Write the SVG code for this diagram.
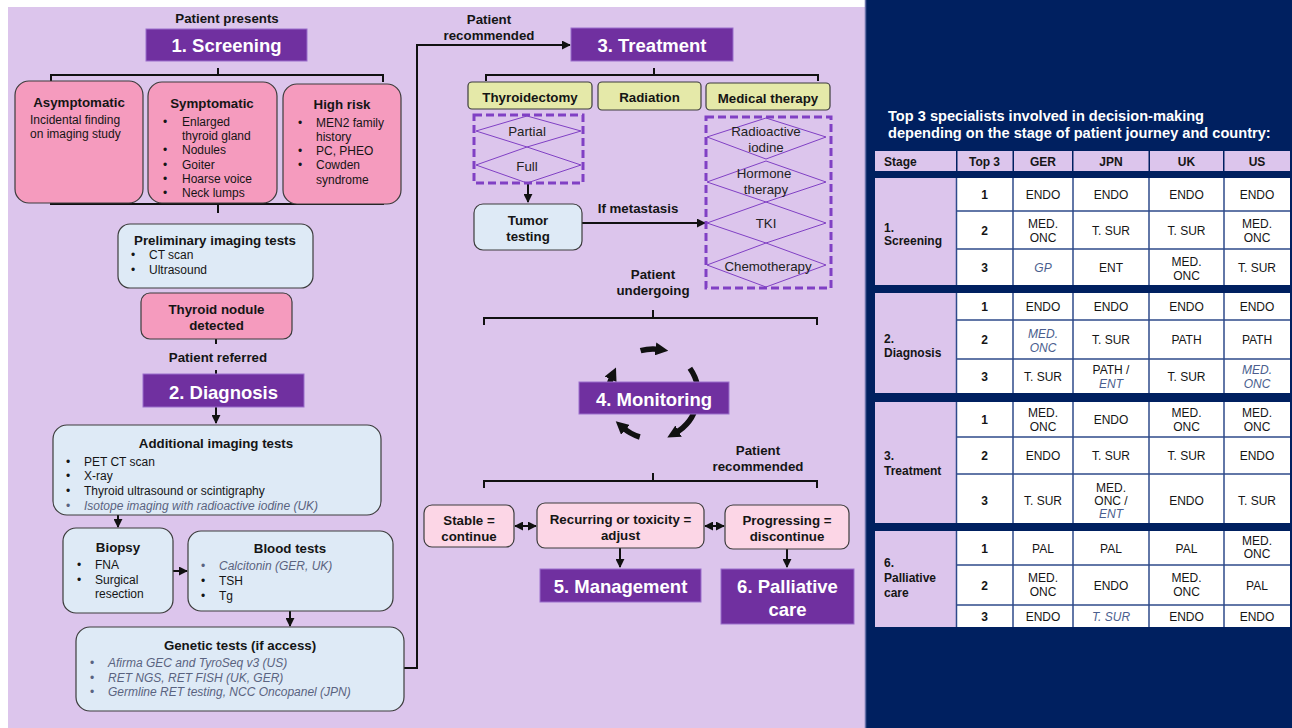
<svg xmlns="http://www.w3.org/2000/svg" width="1292" height="728" viewBox="0 0 1292 728">
<defs>
<style>
text{font-family:"Liberation Sans",Arial,Helvetica,sans-serif;fill:#151515}
.lb{font-size:13.3px;font-weight:bold}
.lbc{font-size:13.3px;font-weight:bold;text-anchor:middle}
.r{font-size:12px}
.it{font-size:12px;font-style:italic;fill:#5A6380}
.hd{font-size:18.5px;font-weight:bold;fill:#fff;text-anchor:middle}
.dm{font-size:13.3px;text-anchor:middle;fill:#222}
.tb{font-size:12px;text-anchor:middle}
.tbb{font-size:12px;font-weight:bold;text-anchor:middle}
.tbs{font-size:12px;font-weight:bold}
.tbi{font-size:12px;font-style:italic;text-anchor:middle;fill:#4A5E8E}
.ttl{font-size:14.6px;font-weight:bold;fill:#fff}
.pk{fill:#F59BBE;stroke:#3c3c3c;stroke-width:1.2}
.lp{fill:#FCD6E6;stroke:#3c3c3c;stroke-width:1.2}
.bl{fill:#DEEAF6;stroke:#3c3c3c;stroke-width:1.2}
.yl{fill:#E5E9A9;stroke:#3c3c3c;stroke-width:1.2}
.pu{fill:#7030A0;stroke:#9A6FCB;stroke-width:1}
.dash{fill:none;stroke:#8040C4;stroke-width:3;stroke-dasharray:8 4}
.dmd{fill:none;stroke:#8040C4;stroke-width:1}
.ln{fill:none;stroke:#111;stroke-width:2}
.cyc{fill:none;stroke:#111;stroke-width:5.5}
.lav{fill:#DCC5EC}
.wc{fill:#fff}
.sep{stroke:#2E4A8A;stroke-width:1.5}
</style>
<marker id="ah" viewBox="0 0 10 10" refX="9" refY="5" markerWidth="9" markerHeight="9" markerUnits="userSpaceOnUse" orient="auto-start-reverse"><path d="M0,0 L10,5 L0,10 z" fill="#111"/></marker>
<marker id="bh" viewBox="0 0 10 10" refX="3" refY="5" markerWidth="13" markerHeight="13" markerUnits="userSpaceOnUse" orient="auto"><path d="M0,0 L10,5 L0,10 z" fill="#111"/></marker>
</defs>

<rect x="8" y="7" width="857" height="721" fill="#DCC5EC"/>
<rect x="865" y="0" width="427" height="728" fill="#002060"/>
<line x1="865.5" y1="0" x2="865.5" y2="728" stroke="#6670A8" stroke-width="1.5"/>

<g id="connectors">
<path class="ln" d="M218,68 V75 M51,82 V75 H383 V82"/>
<path class="ln" d="M51,197 V204 H383 V197 M218,204 V213"/>
<path class="ln" d="M216,339 V344 M216,370 V374"/>
<path class="ln" d="M216,407 V423" marker-end="url(#ah)"/>
<path class="ln" d="M118,515 V527" marker-end="url(#ah)"/>
<path class="ln" d="M173,571 H187" marker-end="url(#ah)"/>
<path class="ln" d="M290,611 V626" marker-end="url(#ah)"/>
<path class="ln" d="M404,668 H417 V45 H570" marker-end="url(#ah)"/>
<path class="ln" d="M654,68 V75 M486,81 V75 H818 V81"/>
<path class="ln" d="M528,183 V202" marker-end="url(#ah)"/>
<path class="ln" d="M582,223 H705" marker-end="url(#ah)"/>
<path class="ln" d="M653,310 V318 M484,325 V318 H817 V325"/>
<path class="ln" d="M653,473 V481 M484,488 V481 H817 V488"/>
<path class="ln" d="M515,526 H536" marker-start="url(#ah)" marker-end="url(#ah)"/>
<path class="ln" d="M705,526 H724" marker-start="url(#ah)" marker-end="url(#ah)"/>
<path class="ln" d="M620,548 V567" marker-end="url(#ah)"/>
<path class="ln" d="M787,549 V567" marker-end="url(#ah)"/>
<path class="cyc" d="M640.6,350.7 A45,45 0 0 1 659.3,349.4" marker-end="url(#bh)"/>
<path class="cyc" d="M689.9,368.2 A45,45 0 0 1 675.2,433.1" marker-end="url(#bh)"/>
<path class="cyc" d="M639.8,437.0 A45,45 0 0 1 622.5,427.3" marker-end="url(#bh)"/>
<path class="cyc" d="M609.5,405.6 A45,45 0 0 1 612.2,375.8" marker-end="url(#bh)"/>
</g>

<text class="lbc" x="227" y="23">Patient presents</text>
<g id="screening"><rect class="pu" x="146" y="29" width="161" height="32"/><text class="hd" x="226.5" y="52">1. Screening</text></g>

<g id="asymptomatic"><rect class="pk" x="15" y="81" width="128" height="122" rx="14"/>
<text class="lbc" x="79" y="106.5">Asymptomatic</text>
<text class="r" x="30" y="123.5">Incidental finding</text><text class="r" x="30" y="137.5">on imaging study</text></g>

<g id="symptomatic"><rect class="pk" x="148" y="82" width="129" height="121" rx="14"/>
<text class="lbc" x="212" y="108">Symptomatic</text>
<g class="r"><text class="r" x="163" y="125.5">•</text><text class="r" x="182" y="125.5">Enlarged</text><text class="r" x="182" y="140">thyroid gland</text>
<text class="r" x="163" y="154">•</text><text class="r" x="182" y="154">Nodules</text>
<text class="r" x="163" y="168.5">•</text><text class="r" x="182" y="168.5">Goiter</text>
<text class="r" x="163" y="182.5">•</text><text class="r" x="182" y="182.5">Hoarse voice</text>
<text class="r" x="163" y="197">•</text><text class="r" x="182" y="197">Neck lumps</text></g></g>

<g id="highrisk"><rect class="pk" x="283" y="84" width="118" height="120" rx="14"/>
<text class="lbc" x="342" y="109">High risk</text>
<text class="r" x="298" y="126.5">•</text><text class="r" x="316" y="126.5">MEN2 family</text><text class="r" x="316" y="140.5">history</text>
<text class="r" x="298" y="155">•</text><text class="r" x="316" y="155">PC, PHEO</text>
<text class="r" x="298" y="169">•</text><text class="r" x="316" y="169">Cowden</text><text class="r" x="316" y="183.5">syndrome</text></g>

<g id="preliminary"><rect class="bl" x="118" y="224" width="195" height="64" rx="12"/>
<text class="lbc" x="215" y="245">Preliminary imaging tests</text>
<text class="r" x="131" y="259">•</text><text class="r" x="149" y="259">CT scan</text>
<text class="r" x="131" y="274">•</text><text class="r" x="149" y="274">Ultrasound</text></g>

<g id="nodule"><rect class="pk" x="141" y="293" width="151" height="46" rx="9"/>
<text class="lbc" x="216.5" y="314">Thyroid nodule</text><text class="lbc" x="216.5" y="330">detected</text></g>

<text class="lbc" x="218" y="362">Patient referred</text>
<g id="diagnosis"><rect class="pu" x="143" y="374" width="161" height="33"/><text class="hd" x="223.5" y="398.5">2. Diagnosis</text></g>

<g id="additional"><rect class="bl" x="53" y="425" width="328" height="90" rx="14"/>
<text class="lbc" x="216" y="448">Additional imaging tests</text>
<text class="r" x="66" y="465.5">•</text><text class="r" x="84" y="465.5">PET CT scan</text>
<text class="r" x="66" y="480">•</text><text class="r" x="84" y="480">X-ray</text>
<text class="r" x="66" y="494.5">•</text><text class="r" x="84" y="494.5">Thyroid ultrasound or scintigraphy</text>
<text class="it" x="66" y="510" style="font-style:normal">•</text><text class="it" x="84" y="510">Isotope imaging with radioactive iodine (UK)</text></g>

<g id="biopsy"><rect class="bl" x="63" y="528" width="110" height="85" rx="13"/>
<text class="lbc" x="118" y="551.5">Biopsy</text>
<text class="r" x="77" y="568.5">•</text><text class="r" x="95" y="568.5">FNA</text>
<text class="r" x="77" y="583.5">•</text><text class="r" x="95" y="583.5">Surgical</text><text class="r" x="95" y="597.5">resection</text></g>

<g id="blood"><rect class="bl" x="188" y="531" width="205" height="80" rx="13"/>
<text class="lbc" x="290" y="553">Blood tests</text>
<text class="it" x="201" y="570" style="font-style:normal">•</text><text class="it" x="219" y="570">Calcitonin (GER, UK)</text>
<text class="r" x="201" y="585">•</text><text class="r" x="219" y="585">TSH</text>
<text class="r" x="201" y="599.5">•</text><text class="r" x="219" y="599.5">Tg</text></g>

<g id="genetic"><rect class="bl" x="76" y="627" width="328" height="84" rx="14"/>
<text class="lbc" x="240" y="650">Genetic tests (if access)</text>
<text class="it" x="90" y="667" style="font-style:normal">•</text><text class="it" x="108" y="667">Afirma GEC and TyroSeq v3 (US)</text>
<text class="it" x="90" y="681.5" style="font-style:normal">•</text><text class="it" x="108" y="681.5">RET NGS, RET FISH (UK, GER)</text>
<text class="it" x="90" y="696" style="font-style:normal">•</text><text class="it" x="108" y="696">Germline RET testing, NCC Oncopanel (JPN)</text></g>

<text class="lbc" x="489" y="24">Patient</text><text class="lbc" x="489" y="40">recommended</text>
<g id="treatment"><rect class="pu" x="571" y="28" width="162" height="33"/><text class="hd" x="652" y="52">3. Treatment</text></g>

<g id="thyroidectomy"><rect class="yl" x="468" y="82" width="124" height="27" rx="4"/><text class="lbc" x="530" y="101.5">Thyroidectomy</text></g>
<g id="radiation"><rect class="yl" x="598" y="82" width="103" height="28" rx="4"/><text class="lbc" x="649.5" y="102">Radiation</text></g>
<g id="medical"><rect class="yl" x="706" y="83" width="124" height="27" rx="4"/><text class="lbc" x="768" y="103">Medical therapy</text></g>

<g id="thyro-options"><rect class="dash" x="474" y="115" width="109" height="68"/>
<path class="dmd" d="M527,116 L581,131 L527,147 L476,131 Z M527,147 L581,165 L527,183 L476,165 Z"/>
<text class="dm" x="527" y="136">Partial</text><text class="dm" x="527" y="170.5">Full</text></g>

<g id="med-options"><rect class="dash" x="706" y="117" width="125" height="171"/>
<path class="dmd" d="M766,118 L826,137 L766,159 L707,137 Z M766,161 L826,182 L766,202 L707,182 Z M766,202 L826,223 L766,243 L707,223 Z M766,243 L826,265 L766,287 L707,265 Z"/>
<text class="dm" x="766" y="135.5">Radioactive</text><text class="dm" x="766" y="151.5">iodine</text>
<text class="dm" x="764" y="177.5">Hormone</text><text class="dm" x="766" y="194">therapy</text>
<text class="dm" x="766" y="227.5">TKI</text>
<text class="dm" x="768" y="271">Chemotherapy</text></g>

<g id="tumor"><rect class="bl" x="474" y="204" width="108" height="46" rx="9"/>
<text class="lbc" x="528" y="225">Tumor</text><text class="lbc" x="528" y="240.5">testing</text></g>
<text class="lbc" x="638" y="213">If metastasis</text>
<text class="lbc" x="653" y="279">Patient</text><text class="lbc" x="653" y="295">undergoing</text>

<g id="monitoring"><rect class="pu" x="579" y="382" width="150" height="32"/><text class="hd" x="654" y="406">4. Monitoring</text></g>

<text class="lbc" x="758" y="455">Patient</text><text class="lbc" x="758" y="470.5">recommended</text>

<g id="stable"><rect class="lp" x="424" y="505" width="90" height="42" rx="8"/>
<text class="lbc" x="469" y="525">Stable =</text><text class="lbc" x="469" y="540.5">continue</text></g>
<g id="recurring"><rect class="lp" x="537" y="503" width="167" height="45" rx="8"/>
<text class="lbc" x="620.5" y="524">Recurring or toxicity =</text><text class="lbc" x="620.5" y="540">adjust</text></g>
<g id="progressing"><rect class="lp" x="725" y="505" width="124" height="44" rx="8"/>
<text class="lbc" x="787" y="525">Progressing =</text><text class="lbc" x="787" y="540.5">discontinue</text></g>

<g id="management"><rect class="pu" x="540" y="569" width="161" height="33"/><text class="hd" x="620.5" y="592.5">5. Management</text></g>
<g id="palliative"><rect class="pu" x="721" y="569" width="133" height="55"/><text class="hd" x="787.5" y="592.5">6. Palliative</text><text class="hd" x="787.5" y="615.5">care</text></g>

<g id="table">
<text class="ttl" x="888" y="121">Top 3 specialists involved in decision-making</text>
<text class="ttl" x="888" y="138">depending on the stage of patient journey and country:</text>
<g class="lav">
<rect x="875" y="151" width="81" height="20"/><rect x="957.5" y="151" width="55" height="20"/><rect x="1014" y="151" width="58" height="20"/>
<rect x="1073.5" y="151" width="75" height="20"/><rect x="1150" y="151" width="73" height="20"/><rect x="1224.5" y="151" width="65.5" height="20"/>
<rect x="875" y="178" width="81" height="107"/><rect x="875" y="293" width="81" height="100"/><rect x="875" y="402" width="81" height="121"/><rect x="875" y="531" width="81" height="96"/>
</g>
<g class="wc">
<rect x="957" y="178" width="333" height="107"/><rect x="957" y="293" width="333" height="100"/><rect x="957" y="402" width="333" height="121"/><rect x="957" y="531" width="333" height="96"/>
</g>
<g class="sep">
<line x1="956.5" y1="178" x2="956.5" y2="285"/><line x1="1013" y1="178" x2="1013" y2="285"/><line x1="1073" y1="178" x2="1073" y2="285"/><line x1="1149" y1="178" x2="1149" y2="285"/><line x1="1224" y1="178" x2="1224" y2="285"/>
<line x1="957" y1="211" x2="1290" y2="211"/><line x1="957" y1="249" x2="1290" y2="249"/>
<line x1="956.5" y1="293" x2="956.5" y2="393"/><line x1="1013" y1="293" x2="1013" y2="393"/><line x1="1073" y1="293" x2="1073" y2="393"/><line x1="1149" y1="293" x2="1149" y2="393"/><line x1="1224" y1="293" x2="1224" y2="393"/>
<line x1="957" y1="320" x2="1290" y2="320"/><line x1="957" y1="359" x2="1290" y2="359"/>
<line x1="956.5" y1="402" x2="956.5" y2="523"/><line x1="1013" y1="402" x2="1013" y2="523"/><line x1="1073" y1="402" x2="1073" y2="523"/><line x1="1149" y1="402" x2="1149" y2="523"/><line x1="1224" y1="402" x2="1224" y2="523"/>
<line x1="957" y1="437" x2="1290" y2="437"/><line x1="957" y1="474" x2="1290" y2="474"/>
<line x1="956.5" y1="531" x2="956.5" y2="627"/><line x1="1013" y1="531" x2="1013" y2="627"/><line x1="1073" y1="531" x2="1073" y2="627"/><line x1="1149" y1="531" x2="1149" y2="627"/><line x1="1224" y1="531" x2="1224" y2="627"/>
<line x1="957" y1="565" x2="1290" y2="565"/><line x1="957" y1="605" x2="1290" y2="605"/>
</g>
<text class="tbs" x="884" y="165.5">Stage</text>
<text class="tbb" x="984.5" y="165.5">Top 3</text><text class="tbb" x="1043" y="165.5">GER</text><text class="tbb" x="1111" y="165.5">JPN</text><text class="tbb" x="1186.5" y="165.5">UK</text><text class="tbb" x="1257" y="165.5">US</text>

<text class="tbs" x="884" y="231.5">1.</text><text class="tbs" x="884" y="244.5">Screening</text>
<text class="tbb" x="984.5" y="199">1</text><text class="tb" x="1043" y="199">ENDO</text><text class="tb" x="1111" y="199">ENDO</text><text class="tb" x="1186.5" y="199">ENDO</text><text class="tb" x="1257" y="199">ENDO</text>
<text class="tbb" x="984.5" y="234.5">2</text><text class="tb" x="1043" y="227.5">MED.</text><text class="tb" x="1043" y="242">ONC</text><text class="tb" x="1111" y="234.5">T. SUR</text><text class="tb" x="1186.5" y="234.5">T. SUR</text><text class="tb" x="1257" y="227.5">MED.</text><text class="tb" x="1257" y="242">ONC</text>
<text class="tbb" x="984.5" y="271.5">3</text><text class="tbi" x="1043" y="271.5">GP</text><text class="tb" x="1111" y="271.5">ENT</text><text class="tb" x="1186.5" y="266">MED.</text><text class="tb" x="1186.5" y="280">ONC</text><text class="tb" x="1257" y="271.5">T. SUR</text>

<text class="tbs" x="884" y="342.5">2.</text><text class="tbs" x="884" y="356.5">Diagnosis</text>
<text class="tbb" x="984.5" y="311">1</text><text class="tb" x="1043" y="311">ENDO</text><text class="tb" x="1111" y="311">ENDO</text><text class="tb" x="1186.5" y="311">ENDO</text><text class="tb" x="1257" y="311">ENDO</text>
<text class="tbb" x="984.5" y="344">2</text><text class="tbi" x="1043" y="337.5">MED.</text><text class="tbi" x="1043" y="351.5">ONC</text><text class="tb" x="1111" y="344">T. SUR</text><text class="tb" x="1186.5" y="344">PATH</text><text class="tb" x="1257" y="344">PATH</text>
<text class="tbb" x="984.5" y="380.5">3</text><text class="tb" x="1043" y="380.5">T. SUR</text><text class="tb" x="1111" y="373.5">PATH /</text><text class="tbi" x="1111" y="387.5">ENT</text><text class="tb" x="1186.5" y="380.5">T. SUR</text><text class="tbi" x="1257" y="373.5">MED.</text><text class="tbi" x="1257" y="387.5">ONC</text>

<text class="tbs" x="884" y="459.5">3.</text><text class="tbs" x="884" y="474.5">Treatment</text>
<text class="tbb" x="984.5" y="424">1</text><text class="tb" x="1043" y="417">MED.</text><text class="tb" x="1043" y="431">ONC</text><text class="tb" x="1111" y="424">ENDO</text><text class="tb" x="1186.5" y="417">MED.</text><text class="tb" x="1186.5" y="431">ONC</text><text class="tb" x="1257" y="417">MED.</text><text class="tb" x="1257" y="431">ONC</text>
<text class="tbb" x="984.5" y="460">2</text><text class="tb" x="1043" y="460">ENDO</text><text class="tb" x="1111" y="460">T. SUR</text><text class="tb" x="1186.5" y="460">T. SUR</text><text class="tb" x="1257" y="460">ENDO</text>
<text class="tbb" x="984.5" y="504.5">3</text><text class="tb" x="1043" y="504.5">T. SUR</text><text class="tb" x="1111" y="492">MED.</text><text class="tb" x="1111" y="505">ONC /</text><text class="tbi" x="1111" y="518">ENT</text><text class="tb" x="1186.5" y="504.5">ENDO</text><text class="tb" x="1257" y="504.5">T. SUR</text>

<text class="tbs" x="884" y="566.5">6.</text><text class="tbs" x="884" y="581.5">Palliative</text><text class="tbs" x="884" y="596.5">care</text>
<text class="tbb" x="984.5" y="552.5">1</text><text class="tb" x="1043" y="552.5">PAL</text><text class="tb" x="1111" y="552.5">PAL</text><text class="tb" x="1186.5" y="552.5">PAL</text><text class="tb" x="1257" y="544.5">MED.</text><text class="tb" x="1257" y="558">ONC</text>
<text class="tbb" x="984.5" y="589.5">2</text><text class="tb" x="1043" y="582">MED.</text><text class="tb" x="1043" y="596">ONC</text><text class="tb" x="1111" y="589.5">ENDO</text><text class="tb" x="1186.5" y="582">MED.</text><text class="tb" x="1186.5" y="596">ONC</text><text class="tb" x="1257" y="589.5">PAL</text>
<text class="tbb" x="984.5" y="620.5">3</text><text class="tb" x="1043" y="620.5">ENDO</text><text class="tbi" x="1111" y="620.5">T. SUR</text><text class="tb" x="1186.5" y="620.5">ENDO</text><text class="tb" x="1257" y="620.5">ENDO</text>
</g>
</svg>
